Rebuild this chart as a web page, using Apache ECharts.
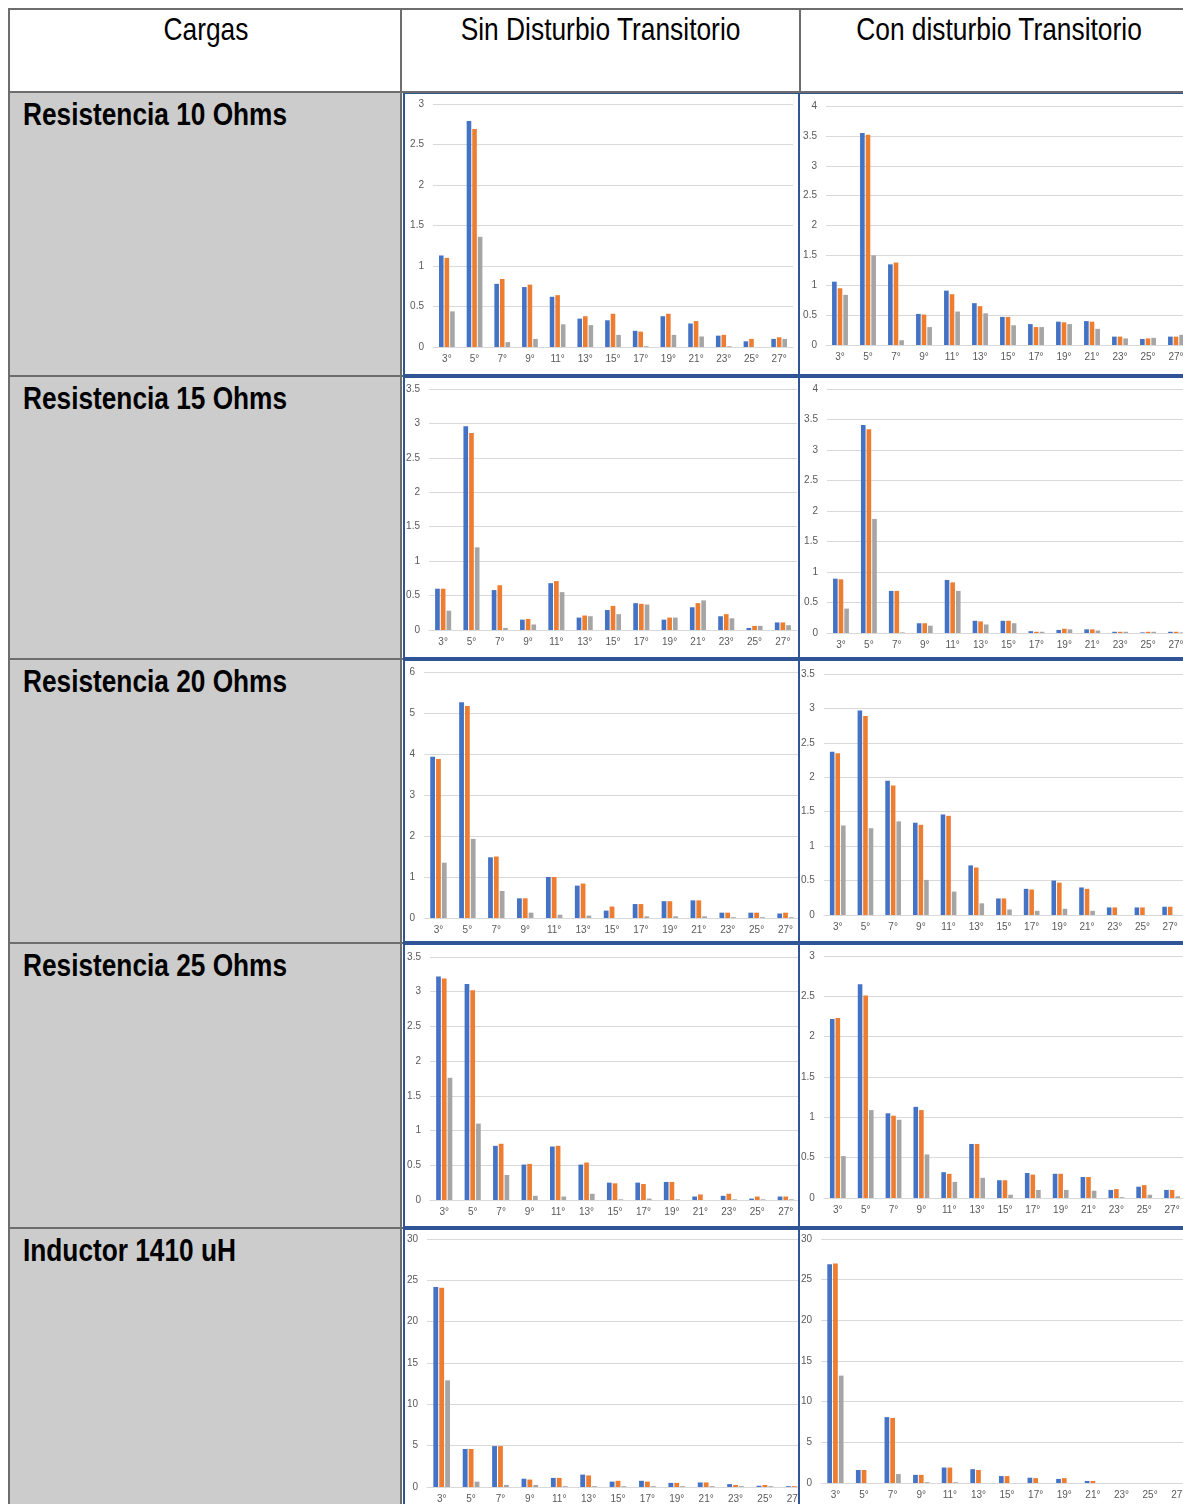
<!DOCTYPE html>
<html>
<head>
<meta charset="utf-8">
<script src="https://cdn.jsdelivr.net/npm/echarts@6/dist/echarts.min.js"></script>
<style>
html,body{margin:0;padding:0;width:1183px;height:1504px;overflow:hidden;background:#fff;}
#page{position:relative;width:1183px;height:1504px;overflow:hidden;}
.abs{position:absolute;box-sizing:border-box;}
.hdr{font-family:"Liberation Sans Narrow","Liberation Sans",Arial,sans-serif;font-size:31px;line-height:31px;color:#000;text-align:center;white-space:nowrap;}
.hdr span{display:inline-block;transform:scale(0.85,1.04);transform-origin:50% 50%;}
.lbl{font-family:"Liberation Sans Narrow","Liberation Sans",Arial,sans-serif;font-weight:bold;font-size:32px;line-height:32px;color:#000;white-space:nowrap;}
.lbl span{display:inline-block;transform:scaleX(0.82);transform-origin:0 50%;}
.gray{background:#cccccc;}
.line{background:#6d6d6d;}
.frame{border:2px solid #2F5597;pointer-events:none;}
</style>
</head>
<body>
<div id="page"></div>
<script>
// ---------- DATA ----------
const harmonics = ['3°','5°','7°','9°','11°','13°','15°','17°','19°','21°','23°','25°','27°'];
const headers = ['Cargas','Sin Disturbio Transitorio','Con disturbio Transitorio'];
const loads = ['Resistencia 10 Ohms','Resistencia 15 Ohms','Resistencia 20 Ohms','Resistencia 25 Ohms','Inductor 1410 uH'];
const seriesNames = ['Serie 1','Serie 2','Serie 3'];

// Resistencia 10 Ohms - sin disturbio
const r10SinA = [1.13,2.79,0.78,0.74,0.62,0.35,0.33,0.20,0.38,0.29,0.14,0.07,0.10];
const r10SinB = [1.10,2.69,0.84,0.77,0.64,0.38,0.41,0.19,0.41,0.32,0.15,0.10,0.12];
const r10SinC = [0.44,1.36,0.06,0.10,0.28,0.27,0.15,0.01,0.15,0.13,0.01,0.00,0.10];
// Resistencia 10 Ohms - con disturbio
const r10ConA = [1.06,3.55,1.35,0.52,0.91,0.70,0.47,0.35,0.39,0.40,0.14,0.10,0.14];
const r10ConB = [0.95,3.52,1.38,0.51,0.85,0.65,0.47,0.30,0.38,0.39,0.14,0.11,0.14];
const r10ConC = [0.84,1.50,0.08,0.30,0.56,0.53,0.33,0.30,0.35,0.27,0.11,0.12,0.17];
// Resistencia 15 Ohms - sin disturbio
const r15SinA = [0.60,2.96,0.58,0.15,0.68,0.18,0.29,0.39,0.15,0.33,0.20,0.03,0.11];
const r15SinB = [0.60,2.86,0.65,0.16,0.71,0.21,0.35,0.38,0.18,0.39,0.23,0.06,0.11];
const r15SinC = [0.28,1.20,0.03,0.08,0.55,0.20,0.23,0.37,0.18,0.43,0.17,0.06,0.07];
// Resistencia 15 Ohms - con disturbio
const r15ConA = [0.89,3.41,0.69,0.16,0.87,0.20,0.20,0.03,0.05,0.06,0.02,0.01,0.02];
const r15ConB = [0.88,3.34,0.69,0.16,0.83,0.19,0.20,0.02,0.07,0.06,0.02,0.02,0.02];
const r15ConC = [0.40,1.87,0.01,0.12,0.69,0.14,0.16,0.02,0.06,0.04,0.02,0.02,0.01];
// Resistencia 20 Ohms - sin disturbio
const r20SinA = [3.93,5.26,1.48,0.48,1.00,0.79,0.18,0.34,0.41,0.43,0.13,0.13,0.11];
const r20SinB = [3.88,5.17,1.50,0.48,1.00,0.84,0.28,0.34,0.41,0.43,0.13,0.13,0.13];
const r20SinC = [1.35,1.93,0.66,0.13,0.08,0.06,0.00,0.04,0.04,0.04,0.02,0.02,0.02];
// Resistencia 20 Ohms - con disturbio
const r20ConA = [2.37,2.97,1.95,1.34,1.46,0.72,0.24,0.38,0.50,0.40,0.11,0.11,0.12];
const r20ConB = [2.35,2.89,1.88,1.31,1.44,0.69,0.24,0.37,0.47,0.38,0.11,0.11,0.12];
const r20ConC = [1.30,1.26,1.36,0.51,0.34,0.17,0.08,0.06,0.09,0.06,0.00,0.00,0.00];
// Resistencia 25 Ohms - sin disturbio
const r25SinA = [3.22,3.11,0.78,0.51,0.77,0.51,0.25,0.25,0.26,0.05,0.06,0.02,0.05];
const r25SinB = [3.19,3.02,0.81,0.52,0.78,0.54,0.24,0.23,0.26,0.08,0.09,0.05,0.05];
const r25SinC = [1.76,1.10,0.36,0.06,0.05,0.09,0.01,0.02,0.01,0.00,0.01,0.01,0.01];
// Resistencia 25 Ohms - con disturbio
const r25ConA = [2.22,2.65,1.05,1.13,0.32,0.67,0.22,0.31,0.30,0.26,0.10,0.14,0.10];
const r25ConB = [2.23,2.51,1.02,1.09,0.30,0.67,0.22,0.29,0.30,0.26,0.11,0.16,0.10];
const r25ConC = [0.52,1.09,0.97,0.54,0.20,0.25,0.04,0.10,0.10,0.09,0.01,0.04,0.02];
// Inductor 1410 uH - sin disturbio
const indSinA = [24.2,4.6,4.95,1.0,1.1,1.5,0.65,0.75,0.5,0.55,0.35,0.15,0.1];
const indSinB = [24.1,4.6,4.95,0.9,1.1,1.4,0.75,0.65,0.5,0.55,0.25,0.25,0.1];
const indSinC = [12.9,0.65,0.25,0.25,0.1,0.1,0.1,0.1,0.1,0.1,0.1,0.1,0.1];
// Inductor 1410 uH - con disturbio
const indConA = [26.9,1.6,8.1,1.0,1.9,1.7,0.85,0.65,0.5,0.25,0,0,0];
const indConB = [27.0,1.6,8.0,1.0,1.9,1.6,0.85,0.6,0.6,0.25,0,0,0];
const indConC = [13.2,0,1.1,0.1,0.1,0,0,0,0,0,0,0,0];

const yMaxes    = [3, 4, 3.5, 4, 6, 3.5, 3.5, 3, 30, 30];
const yIntervals= [0.5,0.5,0.5,0.5,1,0.5,0.5,0.5,5,5];

// ---------- LAYOUT ----------
const page = document.getElementById('page');
function box(cls, x, y, w, h, text){
  const d = document.createElement('div');
  d.className = 'abs ' + cls;
  d.style.left = x+'px'; d.style.top = y+'px';
  if (w!=null) d.style.width = w+'px';
  if (h!=null) d.style.height = h+'px';
  if (text!=null){ const s=document.createElement('span'); s.textContent=text; d.appendChild(s); }
  page.appendChild(d);
  return d;
}
const rowTops = [92, 376, 659, 943, 1228];
const rowBottoms = [376, 659, 943, 1228, 1504];

// gray first column cells
rowTops.forEach((t,i)=>{ box('gray', 10, t, 391, rowBottoms[i]-t); });
// header texts
box('hdr', 10, 14, 391, 34, headers[0]);
box('hdr', 402, 14, 398, 34, headers[1]);
box('hdr', 800, 14, 398, 34, headers[2]);
// load labels
rowTops.forEach((t,i)=>{ box('lbl', 23, t+6, 370, 34, loads[i]); });

// charts
const chartData = [
  [r10SinA,r10SinB,r10SinC],[r10ConA,r10ConB,r10ConC],
  [r15SinA,r15SinB,r15SinC],[r15ConA,r15ConB,r15ConC],
  [r20SinA,r20SinB,r20SinC],[r20ConA,r20ConB,r20ConC],
  [r25SinA,r25SinB,r25SinC],[r25ConA,r25ConB,r25ConC],
  [indSinA,indSinB,indSinC],[indConA,indConB,indConC]
];
const chartBoxes = [
  {x:403,y:92,w:397,h:284,g:{left:30,right:7,top:12,bottom:29}},
  {x:798,y:92,w:400,h:284,g:{left:28,right:8,top:14,bottom:31}},
  {x:403,y:376,w:397,h:283,g:{left:26,right:3,top:13,bottom:29}},
  {x:798,y:376,w:400,h:283,g:{left:29,right:8,top:13,bottom:26}},
  {x:403,y:659,w:397,h:284,g:{left:21,right:0,top:13,bottom:25}},
  {x:798,y:659,w:400,h:284,g:{left:25,right:14,top:15,bottom:28}},
  {x:403,y:943,w:397,h:285,g:{left:27,right:0,top:14,bottom:28}},
  {x:798,y:943,w:400,h:285,g:{left:24,right:12,top:13,bottom:30}},
  {x:403,y:1228,w:410,h:300,g:{left:24,right:4,top:11,bottom:41}},
  {x:798,y:1228,w:400,h:300,g:{left:18,right:5,top:11,bottom:45}}
];
const colors = ['#4472C4','#ED7D31','#A5A5A5'];
const axisFont = '"Liberation Sans", Arial, sans-serif';

chartBoxes.forEach((b,i)=>{
  const el = box('', b.x, b.y, b.w, b.h);
  el.style.background = '#fff';
  const ch = echarts.init(el, null, {renderer:'canvas'});
  ch.setOption({
    animation:false,
    grid:{left:b.g.left,right:b.g.right,top:b.g.top,bottom:b.g.bottom,containLabel:false},
    xAxis:{type:'category',data:harmonics,
      axisLine:{show:true,lineStyle:{color:'#d9d9d9',width:1}},
      axisTick:{show:false},
      axisLabel:{color:'#595959',fontSize:10,fontFamily:axisFont,margin:7,interval:0}},
    yAxis:{type:'value',min:0,max:yMaxes[i],interval:yIntervals[i],
      axisLine:{show:false},axisTick:{show:false},
      splitLine:{lineStyle:{color:'#d9d9d9',width:1}},
      axisLabel:{color:'#595959',fontSize:10,fontFamily:axisFont,margin:9}},
    series: chartData[i].map((arr,k)=>({
      name:seriesNames[k], type:'bar', data:arr,
      barWidth:'16.5%', barGap:'22%',
      itemStyle:{color:colors[k]}
    }))
  });
  // frame
  box('frame', b.x, b.y, 400, b.h);
});

// table lines
box('line', 8, 8, 1175, 2);      // top
box('line', 8, 8, 2, 1496);      // left
box('line', 400, 8, 2, 84);      // header col sep 1
box('line', 799, 8, 2, 84);      // header col sep 2
box('line', 400, 92, 2, 1412);   // col1 right border
rowTops.forEach(t=>{ box('line', 8, t-1, 395, 2); });
box('line', 403, 91, 780, 2);
</script>
</body>
</html>
